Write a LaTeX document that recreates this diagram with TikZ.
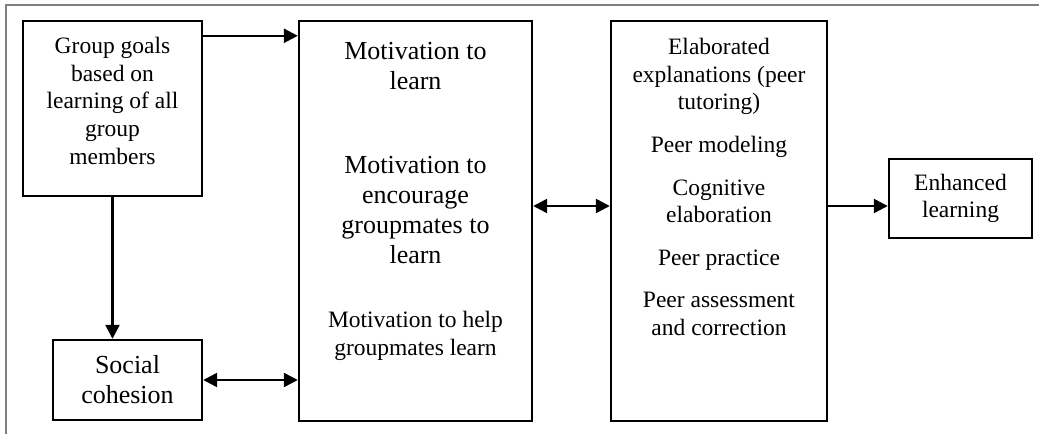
\documentclass[tikz,border=0pt]{standalone}
\usepackage{fontspec}
\setmainfont{Liberation Serif}
\usetikzlibrary{arrows.meta}

\tikzset{
  box/.style={draw, line width=2.4pt, align=center, inner sep=0pt},
  arr/.style={line width=2.4pt, -{Triangle[length=14pt,width=14pt]}},
  darr/.style={line width=2.4pt, {Triangle[length=14pt,width=14pt]}-{Triangle[length=14pt,width=14pt]}},
  txt/.style={align=center, font=\fontsize{23.5}{27.6}\selectfont},
  bigtxt/.style={align=center, font=\fontsize{26}{30}\selectfont},
}

\begin{document}
\begin{tikzpicture}[x=1pt,y=1pt]
\useasboundingbox (0,0) rectangle (1039,434);
% frame round the figure
\draw[gray, line width=1.6pt] (1039,429) -- (6,429) -- (6,0);

% left column
\node[box, txt, minimum width=179pt, minimum height=175pt] (goals) at (112.5,325.5)
  {Group goals\\based on\\learning of all\\group\\members\\[-12pt]\mbox{}};
\node[box, bigtxt, minimum width=149pt, minimum height=80pt] (social) at (127.5,54)
  {Social\\cohesion};

% motivation box
\node[box, minimum width=233pt, minimum height=400pt] (motiv) at (415.5,213) {};
\node[bigtxt] (motivA) at (415.5,368) {Motivation to\\learn};
\node[bigtxt] (motivB) at (415.5,224) {Motivation to\\encourage\\groupmates to\\learn};
\node[txt] (motivC) at (415.5,98) {Motivation to help\\groupmates learn};

% processes box
\node[box, minimum width=216pt, minimum height=400pt] (elab) at (719,213) {};
\node[txt] (elabT) at (719,247) {Elaborated\\explanations (peer\\tutoring)\\[15pt]
  Peer modeling\\[15pt]Cognitive\\elaboration\\[15pt]Peer practice\\[15pt]
  Peer assessment\\and correction};

% outcome
\node[box, txt, minimum width=143pt, minimum height=79pt] (enh) at (960.5,235.5)
  {Enhanced\\learning};

% arrows
\coordinate (gA) at ([yshift=-16pt]goals.north east);
\coordinate (mA) at ([yshift=15pt]motiv.east);
\draw[arr] (gA) -- (gA -| motiv.west);
\draw[arr] (goals.south) -- (goals.south |- social.north);
\draw[darr] (social.east) -- (social.east -| motiv.west);
\draw[darr] (mA) -- (mA -| elab.west);
\draw[arr] (mA -| elab.east) -- (mA -| enh.west);
\end{tikzpicture}
\end{document}
